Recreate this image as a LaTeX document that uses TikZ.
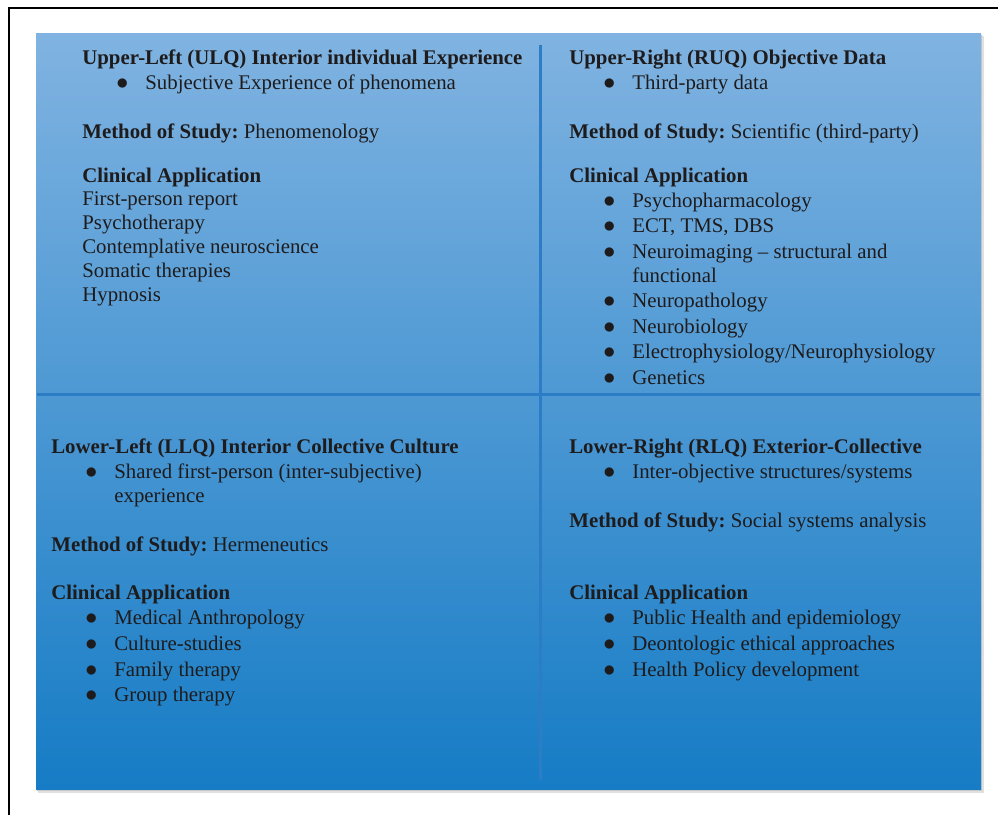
\documentclass[tikz,border=0pt]{standalone}
\usepackage{fontspec}
\setmainfont{Liberation Serif}
\usepackage{xcolor}
\usepackage{tikz}
\definecolor{quadtop}{RGB}{128, 179, 225}
\definecolor{quadbottom}{RGB}{22, 124, 197}
\definecolor{divblue}{RGB}{44, 124, 198}
\definecolor{inkgray}{RGB}{30, 27, 28}
\newcommand{\bitem}[1]{\hspace*{20.4pt}\makebox[17.4pt][l]{\smash{\fontsize{14.5}{14.5}\selectfont$\bullet$}}#1}
\newcommand{\bcont}[1]{\hspace*{37.8pt}#1}
\newcommand{\firstline}{\rule{0pt}{10pt}}

\begin{document}
\frenchspacing
\begin{tikzpicture}[x=0.6pt, y=-0.6pt,
    quad/.style={
      anchor=north west, inner sep=0pt, align=left,
      text=inkgray, font=\fontsize{12.5}{14.4}\selectfont
    },
    divider/.style={line width=1.8pt, draw=divblue},
    frame/.style={line width=1.2pt, draw=black}
]
  \useasboundingbox (0,0) rectangle (998,815);

  % outer frame
  \coordinate (fbl) at (9,815);
  \coordinate (ftl) at (9,8);
  \coordinate (ftr) at (998,8);
  \draw[frame] (fbl) -- (ftl) -- (ftr);

  % shaded box with soft shadow
  \fill[black!12] (38,36) rectangle (984,793);
  \fill[black!22] (37,35) rectangle (982,791);
  \shade[top color=quadtop, bottom color=quadbottom] (36,33) rectangle (981,789);

  \coordinate (vtop) at (540,45);
  \coordinate (vbot) at (540,780);
  \coordinate (hleft) at (37,394);
  \coordinate (hright) at (980,394);
  \draw[divider] (vtop) -- (vbot);
  \draw[divider] (hleft) -- (hright);

  \node[quad] (ulq) at (82,47.3) {%
    \firstline\textbf{Upper-Left (ULQ) Interior individual Experience}\\[0.6pt]
    \bitem{Subjective Experience of phenomena}\\[15pt]
    \textbf{Method of Study:} Phenomenology\\[12pt]
    \textbf{Clinical Application}\\[-0.6pt]
    First-person report\\
    Psychotherapy\\
    Contemplative neuroscience\\
    Somatic therapies\\
    Hypnosis};

  \node[quad] (urq) at (569,47.3) {%
    \firstline\textbf{Upper-Right (RUQ) Objective Data}\\[0.6pt]
    \bitem{Third-party data}\\[15pt]
    \textbf{Method of Study:} Scientific (third-party)\\[12pt]
    \textbf{Clinical Application}\\[0.6pt]
    \bitem{Psychopharmacology}\\[0.9pt]
    \bitem{ECT, TMS, DBS}\\[0.9pt]
    \bitem{Neuroimaging – structural and}\\
    \bcont{functional}\\[0.9pt]
    \bitem{Neuropathology}\\[0.9pt]
    \bitem{Neurobiology}\\[0.9pt]
    \bitem{Electrophysiology/Neurophysiology}\\[0.9pt]
    \bitem{Genetics}};

  \node[quad] (llq) at (51,436.3) {%
    \firstline\textbf{Lower-Left (LLQ) Interior Collective Culture}\\[0.6pt]
    \bitem{Shared first-person (inter-subjective)}\\
    \bcont{experience}\\[15pt]
    \textbf{Method of Study:} Hermeneutics\\[14.4pt]
    \textbf{Clinical Application}\\[0.6pt]
    \bitem{Medical Anthropology}\\[1.2pt]
    \bitem{Culture-studies}\\[1.2pt]
    \bitem{Family therapy}\\[0.6pt]
    \bitem{Group therapy}};

  \node[quad] (lrq) at (569,436.3) {%
    \firstline\textbf{Lower-Right (RLQ) Exterior-Collective}\\[0.6pt]
    \bitem{Inter-objective structures/systems}\\[15pt]
    \textbf{Method of Study:} Social systems analysis\\[28.8pt]
    \textbf{Clinical Application}\\[0.6pt]
    \bitem{Public Health and epidemiology}\\[1.2pt]
    \bitem{Deontologic ethical approaches}\\[1.2pt]
    \bitem{Health Policy development}};
\end{tikzpicture}
\end{document}
